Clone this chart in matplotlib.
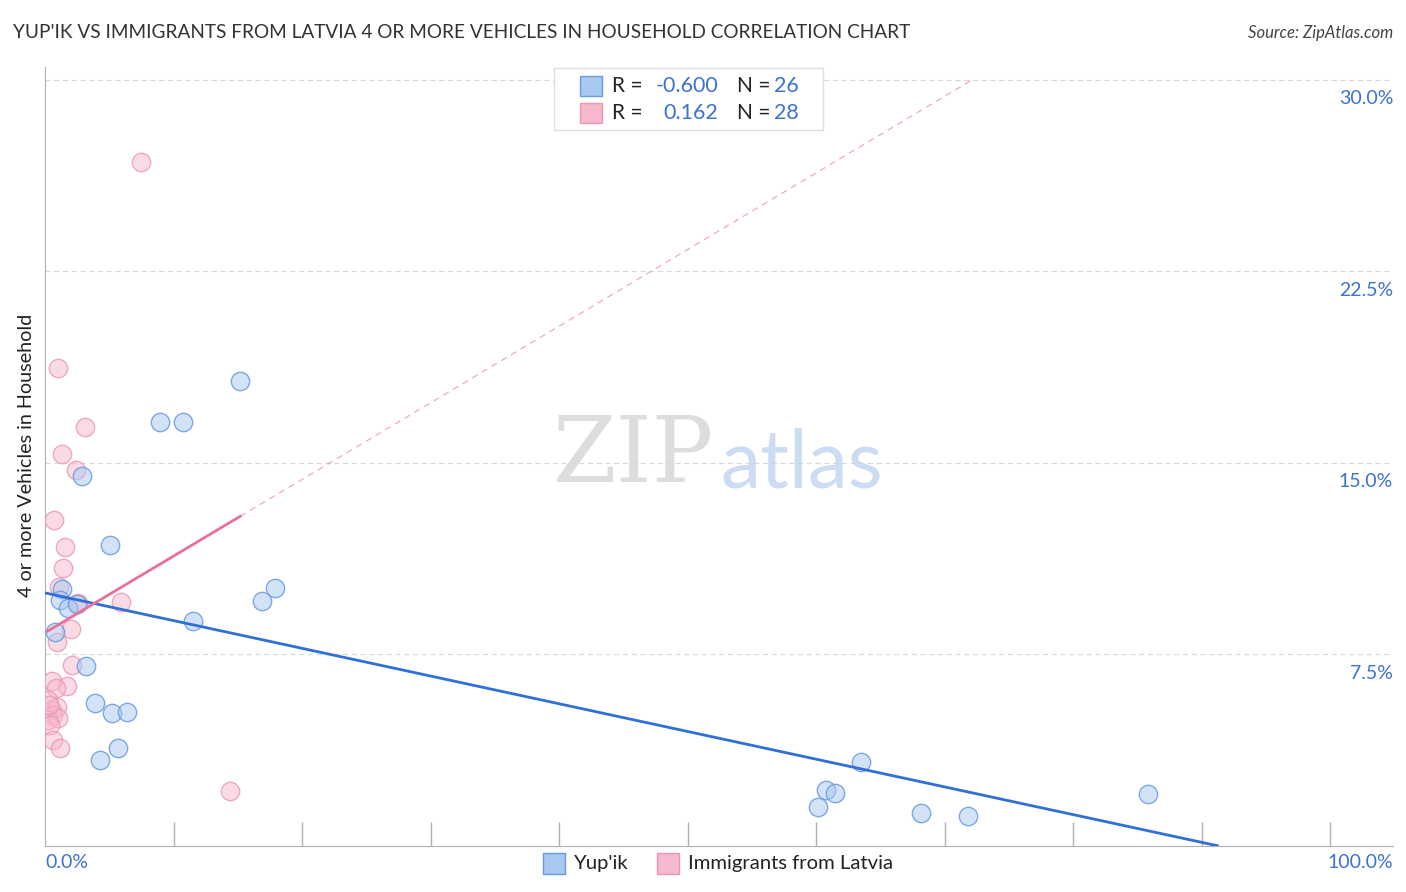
import matplotlib
matplotlib.use("Agg")
import matplotlib.pyplot as plt
from matplotlib.patches import Rectangle
from matplotlib.colors import to_rgba
import numpy as np

# ---- data ----
yupik_x = [0.78, 1.32, 1.17, 1.79, 2.49, 2.88, 3.19, 3.89, 4.28, 5.06, 5.21, 5.68, 6.38,
           8.95, 10.74, 11.52, 15.18, 16.89, 17.90, 60.16, 60.78, 61.48, 63.50, 68.17, 71.83, 85.84]
yupik_y = [8.38, 10.07, 9.64, 9.32, 9.48, 14.49, 7.05, 5.60, 3.37, 11.79, 5.21, 3.84, 5.25,
           16.61, 16.61, 8.81, 18.21, 9.60, 10.11, 1.53, 2.19, 2.08, 3.29, 1.29, 1.18, 2.04]

latvia_x = [7.47, 1.01, 3.11, 1.32, 2.41, 0.70, 1.56, 1.40, 1.09, 2.57, 5.91, 2.02, 0.93, 2.10,
            1.71, 0.54, 0.86, 0.23, 0.54, 0.93, 0.62, 0.23, 1.01, 0.39, 0.31, 0.62, 1.17, 14.40]
latvia_y = [26.79, 18.72, 16.41, 15.35, 14.73, 12.77, 11.71, 10.89, 10.14, 9.52, 9.56, 8.50, 7.99, 7.09,
            6.27, 6.46, 6.19, 5.72, 5.33, 5.44, 5.13, 4.94, 5.01, 4.74, 5.52, 4.15, 3.84, 2.15]

yupik_fit = (9.91, -0.1085)     # intercept, slope
latvia_fit = (8.35, 0.30)

legend_r = ["-0.600", "0.162"]
legend_n = ["26", "28"]
series_names = ["Yup'ik", "Immigrants from Latvia"]
y_ticks = [7.5, 15.0, 22.5, 30.0]
x_ticks = [0, 10, 20, 30, 40, 50, 60, 70, 80, 90, 100]

BLUE_FILL = "#a8c8f0"
BLUE_EDGE = "#6a9be0"
PINK_FILL = "#f6b8cb"
PINK_EDGE = "#eb98b2"
BLUE_LINE = "#2f6fd6"
PINK_LINE = "#e8709a"
LABEL_BLUE = "#3d72d0"
FONT = "Lato"

W, H = 1406, 892
fig = plt.figure(figsize=(W / 100, H / 100), dpi=100)
ax = fig.add_axes([45 / W, 1 - 846 / H, (1393 - 45) / W, (846 - 67) / H])
XMAX = (1393 - 45) / 12.85
ax.set_xlim(0, XMAX)
ax.set_ylim(0, 30.5)

# gridlines
for t in y_ticks:
    ax.axhline(t, color="#d9d9d9", lw=0.9, ls=(0, (4, 3)), zorder=0)

# scatter
ax.scatter(latvia_x, latvia_y, s=175, facecolor=to_rgba(PINK_FILL, 0.5), edgecolor=to_rgba(PINK_EDGE, 0.8),
           linewidths=1.0, zorder=3)
ax.scatter(yupik_x, yupik_y, s=175, facecolor=to_rgba(BLUE_FILL, 0.5), edgecolor=to_rgba(BLUE_EDGE, 0.85),
           linewidths=1.0, zorder=4)

# trend lines
bx = np.array([0, -yupik_fit[0] / yupik_fit[1]])
ax.plot(bx, yupik_fit[0] + yupik_fit[1] * bx, color=BLUE_LINE, lw=2, zorder=5, solid_capstyle="butt")
px_solid = np.array([0.2, max(latvia_x) + 0.8])
ax.plot(px_solid, latvia_fit[0] + latvia_fit[1] * px_solid, color=PINK_LINE, lw=2, zorder=5)
px_dash = np.array([px_solid[1], (30.0 - latvia_fit[0]) / latvia_fit[1]])
ax.plot(px_dash, latvia_fit[0] + latvia_fit[1] * px_dash, color=PINK_LINE, lw=0.9,
        ls=(0, (5, 4)), alpha=0.6, zorder=2)

# spines & ticks
for s in ["top", "right"]:
    ax.spines[s].set_visible(False)
ax.spines["left"].set_color("#b0b0b0")
ax.spines["bottom"].set_color("#b0b0b0")
ax.set_xticks(x_ticks[1:])
ax.set_xticklabels([])
ax.tick_params(axis="x", direction="in", length=17, color="#b0b0b0", width=1)
ax.set_yticks([])

# y tick labels on right
for t in y_ticks:
    ax.annotate(f"{t:.1f}%", xy=(1, t), xycoords=("axes fraction", "data"),
                xytext=(0, -7.5), textcoords="offset points", ha="right", va="top",
                color=LABEL_BLUE, fontsize=14, family=FONT)

# x labels
fig.text(45 / W, 1 - 863 / H, "0.0%", ha="left", va="center", color=LABEL_BLUE, fontsize=14, family=FONT)
fig.text(1393 / W, 1 - 863 / H, "100.0%", ha="right", va="center", color=LABEL_BLUE, fontsize=14, family=FONT)

# y axis label
fig.text(27 / W, 1 - 455 / H, "4 or more Vehicles in Household", rotation=90, ha="center",
         va="center", fontsize=14.2, family=FONT, color="#222222")

# title and source
fig.text(13 / W, 1 - 33 / H, "YUP'IK VS IMMIGRANTS FROM LATVIA 4 OR MORE VEHICLES IN HOUSEHOLD CORRELATION CHART",
         ha="left", va="center", fontsize=13.7, family=FONT, color="#333333")
fig.text(1393 / W, 1 - 33 / H, "Source: ZipAtlas.com", ha="right", va="center", fontsize=12,
         style="italic", family=FONT, color="#444444")

# watermark
fig.text(634 / W, 1 - 457 / H, "ZIP", ha="center", va="center", fontsize=66, family="DejaVu Serif",
         color="#d5d5d5", alpha=0.8)
fig.text(802 / W, 1 - 465 / H, "atlas", ha="center", va="center", fontsize=58, family=FONT,
         color="#c2d6f2", alpha=0.85)

# top legend
fig.patches.append(Rectangle((554 / W, 1 - 130 / H), (823 - 554) / W, (130 - 68) / H,
                             transform=fig.transFigure, facecolor="white", edgecolor="#dddddd", lw=1, zorder=10))
rows = [(86, BLUE_FILL, BLUE_EDGE), (113, PINK_FILL, PINK_EDGE)]
for i, (yy, fc, ec) in enumerate(rows):
    fig.patches.append(Rectangle((580 / W, 1 - (yy + 10) / H), 22 / W, 20 / H, transform=fig.transFigure,
                                 facecolor=fc, edgecolor=ec, lw=1, zorder=11))
    fig.text(612 / W, 1 - yy / H, "R =", ha="left", va="center", fontsize=15, family=FONT, color="#222222", zorder=12)
    fig.text(718 / W, 1 - yy / H, legend_r[i], ha="right", va="center", fontsize=15.5, family=FONT, color=LABEL_BLUE, zorder=12)
    fig.text(737 / W, 1 - yy / H, "N =", ha="left", va="center", fontsize=15, family=FONT, color="#222222", zorder=12)
    fig.text(774 / W, 1 - yy / H, legend_n[i], ha="left", va="center", fontsize=15.5, family=FONT, color=LABEL_BLUE, zorder=12)

# bottom legend
for x0, name, fc, ec in [(543, series_names[0], BLUE_FILL, BLUE_EDGE), (657, series_names[1], PINK_FILL, PINK_EDGE)]:
    fig.patches.append(Rectangle((x0 / W, 1 - 874 / H), 22 / W, 21 / H, transform=fig.transFigure,
                                 facecolor=fc, edgecolor=ec, lw=1))
    fig.text((x0 + 31) / W, 1 - 863 / H, name, ha="left", va="center", fontsize=14.6, family=FONT, color="#222222")

fig.savefig("out.png", dpi=100)
